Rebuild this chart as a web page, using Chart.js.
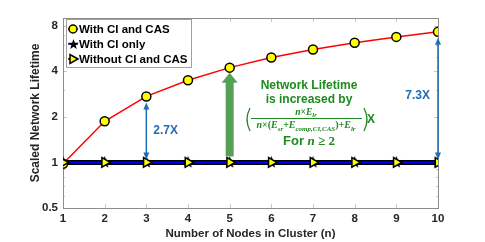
<!DOCTYPE html>
<html>
<head>
<meta charset="utf-8">
<script src="https://cdn.jsdelivr.net/npm/chart.js@4.4.1/dist/chart.umd.min.js"></script>
<style>
  html, body { margin: 0; padding: 0; background: #fff; }
  #wrap { width: 485px; height: 242px; position: relative; }
</style>
</head>
<body>
<div id="wrap"><canvas id="c" width="485" height="242"></canvas></div>
<script>
// ================== DATA ==================
const nodes        = [1, 2, 3, 4, 5, 6, 7, 8, 9, 10];
const withCiCas    = [0.98, 1.87, 2.73, 3.49, 4.23, 4.93, 5.57, 6.17, 6.75, 7.29];
const withCiOnly   = [1, 1, 1, 1, 1, 1, 1, 1, 1, 1];
const withoutCiCas = [1, 1, 1, 1, 1, 1, 1, 1, 1, 1];
const yTicks       = [0.5, 1, 2, 4, 8];
const yMinor       = [0.6, 0.7, 0.8, 0.9, 3, 5, 6, 7, 9];
const gains        = [{ n: 3, text: "2.7X" }, { n: 10, text: "7.3X" }];

const SANS  = '"Liberation Sans", Arial, sans-serif';
const SERIF = '"Liberation Serif", "Times New Roman", serif';
const BLUE_ANN  = "#1f6db5";
const GREEN_TXT = "#1f8a1f";
const GREEN_ARR = "#55a055";

const pts = (arr) => nodes.map((n, i) => ({ x: n, y: arr[i] }));

// pentagram marker
function starCanvas(r) {
  const c = document.createElement("canvas");
  const s = Math.ceil(r * 2 + 2);
  c.width = s; c.height = s;
  const g = c.getContext("2d");
  g.beginPath();
  for (let i = 0; i < 10; i++) {
    const rr = i % 2 ? r * 0.42 : r;
    const a = -Math.PI / 2 + i * Math.PI / 5;
    g.lineTo(s / 2 + rr * Math.cos(a), s / 2 + rr * Math.sin(a));
  }
  g.closePath();
  g.fillStyle = "#000";
  g.fill();
  return c;
}
const star = starCanvas(6.5);
const starSmall = starCanvas(5.5);

// ================== HELPERS ==================
function arrowHead(ctx, x, y, dir, w, l) {
  ctx.beginPath();
  ctx.moveTo(x, y);
  ctx.lineTo(x - w / 2, y - dir * l);
  ctx.lineTo(x + w / 2, y - dir * l);
  ctx.closePath();
  ctx.fill();
}

// runs: [{t, it, sub}]
function drawRuns(ctx, runs, cx, y, size) {
  const fontOf = (r) => {
    const sz = r.sub ? size * 0.7 : size;
    return r.it ? `italic bold ${sz}px ${SERIF}` : `bold ${sz}px ${r.serif ? SERIF : SANS}`;
  };
  let w = 0;
  runs.forEach(r => { ctx.font = fontOf(r); w += ctx.measureText(r.t).width; });
  let x = cx - w / 2;
  ctx.textAlign = "left";
  ctx.textBaseline = "alphabetic";
  runs.forEach(r => {
    ctx.font = fontOf(r);
    ctx.fillText(r.t, x, r.sub ? y + size * 0.25 : y);
    x += ctx.measureText(r.t).width;
  });
  return w;
}

function paren(ctx, x, top, bot, dir) {
  const mid = (top + bot) / 2;
  ctx.beginPath();
  ctx.moveTo(x, top);
  ctx.quadraticCurveTo(x - dir * 6, mid, x, bot);
  ctx.stroke();
}

// ================== PLUGINS ==================
const frame = {
  id: "frame",
  beforeDatasetsDraw(chart) {
    const { ctx, chartArea: a, scales: { x, y } } = chart;
    ctx.save();
    ctx.strokeStyle = "#c8c8c8";
    ctx.lineWidth = 1;
    ctx.beginPath();
    nodes.forEach(n => {
      const px = Math.round(x.getPixelForValue(n)) + 0.5;
      ctx.moveTo(px, a.top); ctx.lineTo(px, a.top + 4);
      ctx.moveTo(px, a.bottom); ctx.lineTo(px, a.bottom - 4);
    });
    yTicks.forEach(v => {
      const py = Math.round(y.getPixelForValue(v)) + 0.5;
      ctx.moveTo(a.left, py); ctx.lineTo(a.left + 4, py);
      ctx.moveTo(a.right, py); ctx.lineTo(a.right - 4, py);
    });
    yMinor.forEach(v => {
      const py = Math.round(y.getPixelForValue(v)) + 0.5;
      ctx.moveTo(a.left, py); ctx.lineTo(a.left + 2, py);
      ctx.moveTo(a.right, py); ctx.lineTo(a.right - 2, py);
    });
    ctx.stroke();
    ctx.strokeStyle = "#8c8c8c";
    ctx.strokeRect(Math.round(a.left) + 0.5, Math.round(a.top) + 0.5,
      Math.round(a.right - a.left), Math.round(a.bottom - a.top));
    ctx.restore();
  },
  afterDraw(chart) {
    const { ctx, chartArea: a, scales: { x, y } } = chart;
    ctx.save();

    // --- blue gain arrows
    ctx.strokeStyle = BLUE_ANN; ctx.fillStyle = BLUE_ANN; ctx.lineWidth = 1.5;
    gains.forEach(g => {
      const px = x.getPixelForValue(g.n);
      const top = y.getPixelForValue(withCiCas[g.n - 1]) + 6;
      const bot = y.getPixelForValue(1) - 3;
      ctx.beginPath(); ctx.moveTo(px, top + 5); ctx.lineTo(px, bot - 5); ctx.stroke();
      arrowHead(ctx, px, top, -1, 6, 7);
      arrowHead(ctx, px, bot, 1, 6, 7);
      ctx.font = `bold 12px ${SANS}`;
      ctx.textBaseline = "middle";
      const mid = g.n === 10 ? (top + bot) / 2 - 3 : (top + bot) / 2;
      if (g.n === 10) { ctx.textAlign = "right"; ctx.fillText(g.text, px - 8, mid); }
      else { ctx.textAlign = "left"; ctx.fillText(g.text, px + 7, mid); }
    });

    // --- green arrow at n = 5
    const gx = x.getPixelForValue(5);
    const tip = y.getPixelForValue(withCiCas[4]) + 5;
    const base = y.getPixelForValue(1) - 6;
    ctx.fillStyle = GREEN_ARR;
    ctx.fillRect(gx - 4, tip + 9, 8, base - tip - 9);
    arrowHead(ctx, gx, tip, -1, 16, 10);

    // --- green text block
    const cx = 309;
    ctx.fillStyle = GREEN_TXT;
    ctx.strokeStyle = GREEN_TXT;
    ctx.textAlign = "center"; ctx.textBaseline = "alphabetic";
    ctx.font = `bold 12px ${SANS}`;
    ctx.fillText("Network Lifetime", cx, 89);
    ctx.fillText("is increased by", cx, 103);
    drawRuns(ctx, [{ t: "n", it: 1 }, { t: "×", serif: 1 }, { t: "E", it: 1 }, { t: "lr", it: 1, sub: 1 }], cx - 3, 115, 9.5);
    ctx.fillRect(251, 118, 111, 1);
    drawRuns(ctx, [
      { t: "n", it: 1 }, { t: "×(", serif: 1 }, { t: "E", it: 1 }, { t: "sr", it: 1, sub: 1 },
      { t: "+", serif: 1 }, { t: "E", it: 1 }, { t: "comp,CI,CAS", it: 1, sub: 1 },
      { t: ")+", serif: 1 }, { t: "E", it: 1 }, { t: "lr", it: 1, sub: 1 }
    ], cx - 3, 128, 10);
    ctx.lineWidth = 1.3;
    paren(ctx, 250, 108, 131, 1);
    paren(ctx, 364, 108, 131, -1);
    ctx.font = `bold 12px ${SANS}`;
    ctx.textAlign = "left"; ctx.textBaseline = "middle";
    ctx.fillText("X", 367, 120);
    ctx.textBaseline = "alphabetic";
    drawRuns(ctx, [{ t: "For ", serif: 0 }, { t: "n", it: 1 }, { t: " ≥ 2", serif: 1 }], cx, 145, 13);

    // --- legend
    const lx = 66, ly = 19, lw = 125, lh = 48;
    ctx.fillStyle = "#fff";
    ctx.fillRect(lx, ly, lw, lh);
    ctx.strokeStyle = "#a0a0a0"; ctx.lineWidth = 1;
    ctx.strokeRect(lx + 0.5, ly + 0.5, lw, lh);
    const rows = [
      { label: "With CI and CAS", color: "#ff0000", mark: "circle" },
      { label: "With CI only", color: "#0000ff", mark: "star" },
      { label: "Without CI and CAS", color: "#000000", mark: "tri" }
    ];
    rows.forEach((r, i) => {
      const yy = ly + 10 + i * 15;
      ctx.strokeStyle = r.color; ctx.lineWidth = 1.5;
      ctx.beginPath(); ctx.moveTo(lx + 2, yy); ctx.lineTo(lx + 12, yy); ctx.stroke();
      const mx = lx + 7;
      ctx.lineWidth = 1.5; ctx.strokeStyle = "#000";
      if (r.mark === "circle") {
        ctx.fillStyle = "#ffff00";
        ctx.beginPath(); ctx.arc(mx, yy, 4, 0, Math.PI * 2); ctx.fill(); ctx.stroke();
      } else if (r.mark === "star") {
        ctx.drawImage(starSmall, mx - starSmall.width / 2 + 0.5, yy - starSmall.height / 2 + 0.5);
      } else {
        ctx.fillStyle = "#ffff00";
        ctx.beginPath(); ctx.moveTo(mx + 5, yy); ctx.lineTo(mx - 3, yy - 4.5); ctx.lineTo(mx - 3, yy + 4.5);
        ctx.closePath(); ctx.fill(); ctx.stroke();
      }
      ctx.fillStyle = "#000";
      ctx.font = `bold 11.5px ${SANS}`;
      ctx.textAlign = "left"; ctx.textBaseline = "middle";
      ctx.fillText(r.label, lx + 13, yy + 1);
    });

    // --- axis titles
    ctx.fillStyle = "#262626";
    ctx.font = `bold 11.5px ${SANS}`;
    ctx.textAlign = "center"; ctx.textBaseline = "middle";
    ctx.fillText("Number of Nodes in Cluster (n)", (a.left + a.right) / 2, 234);
    ctx.save();
    ctx.translate(36, (a.top + a.bottom) / 2);
    ctx.rotate(-Math.PI / 2);
    ctx.font = `bold 12px ${SANS}`;
    ctx.fillText("Scaled Network Lifetime", 0, 0);
    ctx.restore();

    ctx.restore();
  }
};

// ================== CHART ==================
new Chart(document.getElementById("c"), {
  type: "line",
  data: {
    datasets: [
      { label: "_outline", data: pts(withoutCiCas), borderColor: "#000", borderWidth: 5,
        pointRadius: 0, order: 5 },
      { label: "With CI only", data: pts(withCiOnly), borderColor: "#0000ff", borderWidth: 2,
        pointStyle: star, pointRadius: 6, order: 4 },
      { label: "With CI and CAS", data: pts(withCiCas), borderColor: "#ff0000", borderWidth: 1.5,
        pointStyle: "circle", pointRadius: 4.5, pointBackgroundColor: "#ffff00",
        pointBorderColor: "#000", pointBorderWidth: 1.5, order: 3 },
      { label: "Without CI and CAS", data: pts(withoutCiCas), showLine: false,
        pointStyle: "triangle", rotation: 90, pointRadius: 5.5, pointBackgroundColor: "#ffff00",
        pointBorderColor: "#000", pointBorderWidth: 1.5, order: 1 }
    ]
  },
  options: {
    responsive: false,
    animation: false,
    events: [],
    layout: { padding: { top: 18, right: 47, left: 0, bottom: 0 } },
    plugins: { legend: { display: false }, tooltip: { enabled: false } },
    scales: {
      x: {
        type: "linear", min: 1, max: 10,
        grid: { display: false, drawTicks: false },
        border: { display: false },
        afterBuildTicks: (s) => { s.ticks = nodes.map(v => ({ value: v })); },
        afterFit: (s) => { s.height = 34; },
        ticks: { color: "#262626", padding: 4, font: { family: SANS, size: 11.5, weight: "bold" },
          callback: (v) => String(v) }
      },
      y: {
        type: "logarithmic", min: 0.5, max: 9,
        grid: { display: false, drawTicks: false },
        border: { display: false },
        afterBuildTicks: (s) => { s.ticks = yTicks.map(v => ({ value: v })); },
        afterFit: (s) => { s.width = 63; },
        ticks: { color: "#262626", padding: 5, font: { family: SANS, size: 11.5, weight: "bold" },
          callback: (v) => String(v) }
      }
    }
  },
  plugins: [frame]
});
</script>
</body>
</html>
